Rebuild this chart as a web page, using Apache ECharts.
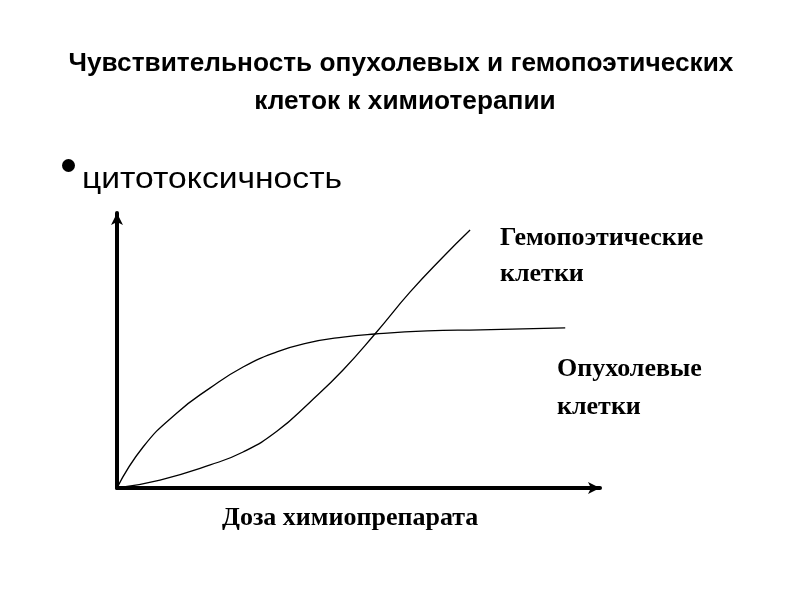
<!DOCTYPE html>
<html>
<head>
<meta charset="utf-8">
<script src="https://cdn.jsdelivr.net/npm/echarts@6/dist/echarts.min.js"></script>
<style>
  html, body { margin: 0; padding: 0; background: #fff; }
  #chart { width: 800px; height: 600px; }
</style>
</head>
<body>
<div id="chart"></div>
<script>
  // доза (условные единицы) и токсичность для двух типов клеток
  var tumorDose = [0, 5.4, 12.4, 19.3, 26.1, 33.1, 39.3, 46.8, 53.4, 64.2, 75.2, 92.8];
  var tumorTox  = [0, 14.9, 27.3, 36.4, 44.0, 49.5, 52.7, 54.9, 56.0, 57.1, 57.5, 58.2];
  var hemoDose  = [0, 8.9, 19.3, 26.1, 33.1, 40.0, 46.8, 53.4, 60.7, 67.5, 73.1];
  var hemoTox   = [0, 2.9, 8.4, 13.1, 20.6, 31.3, 42.9, 56.0, 71.3, 84.0, 93.8];

  var titleLines = ['Чувствительность опухолевых и гемопоэтических', 'клеток к химиотерапии'];
  var bulletText = 'цитотоксичность';
  var xName = 'Доза химиопрепарата';
  var hemoLines = ['Гемопоэтические', 'клетки'];
  var tumorLines = ['Опухолевые', 'клетки'];

  function pairs(xs, ys) {
    return xs.map(function (x, i) { return [x, ys[i]]; });
  }

  var sans = '"Liberation Sans", Arial, sans-serif';
  var serif = '"Liberation Serif", "DejaVu Serif", serif';

  // подпись: x, y — середина строки
  function label(text, x, y, font, align, sx) {
    return {
      type: 'text', x: x, y: y, scaleX: sx || 1,
      style: { text: text, x: 0, y: 0, font: font, fill: '#000',
        align: align || 'left', verticalAlign: 'middle' }
    };
  }

  var myChart = echarts.init(document.getElementById('chart'));
  var option = {
    backgroundColor: '#fff',
    animation: false,
    graphic: [
      label(titleLines[0], 401, 64, 'bold 25px ' + sans, 'center', 1.05),
      label(titleLines[1], 405, 102, 'bold 25px ' + sans, 'center', 1.05),
      { type: 'circle', shape: { cx: 68.5, cy: 165.5, r: 6.5 }, style: { fill: '#000' } },
      label(bulletText, 82, 180, '29px ' + sans, 'left', 1.16),
      label(hemoLines[0], 500, 238, 'bold 26px ' + serif),
      label(hemoLines[1], 500, 274, 'bold 26px ' + serif),
      label(tumorLines[0], 557, 369, 'bold 26px ' + serif),
      label(tumorLines[1], 557, 407, 'bold 26px ' + serif),
      label(xName, 222, 518, 'bold 26px ' + serif)
    ],
    grid: { left: 117, right: 200, top: 213, bottom: 112 },
    xAxis: {
      type: 'value', min: 0, max: 100,
      axisLine: { show: true, symbol: ['none', 'arrow'], symbolSize: [9, 12],
        lineStyle: { color: '#000', width: 4 } },
      axisTick: { show: false }, axisLabel: { show: false }, splitLine: { show: false }
    },
    yAxis: {
      type: 'value', min: 0, max: 100,
      axisLine: { show: true, symbol: ['none', 'arrow'], symbolSize: [9, 12],
        lineStyle: { color: '#000', width: 4 } },
      axisTick: { show: false }, axisLabel: { show: false }, splitLine: { show: false }
    },
    series: [
      { name: 'Опухолевые клетки', type: 'line', smooth: true, showSymbol: false,
        data: pairs(tumorDose, tumorTox), lineStyle: { color: '#000', width: 1.3 } },
      { name: 'Гемопоэтические клетки', type: 'line', smooth: true, showSymbol: false,
        data: pairs(hemoDose, hemoTox), lineStyle: { color: '#000', width: 1.3 } }
    ]
  };
  myChart.setOption(option);
</script>
</body>
</html>
